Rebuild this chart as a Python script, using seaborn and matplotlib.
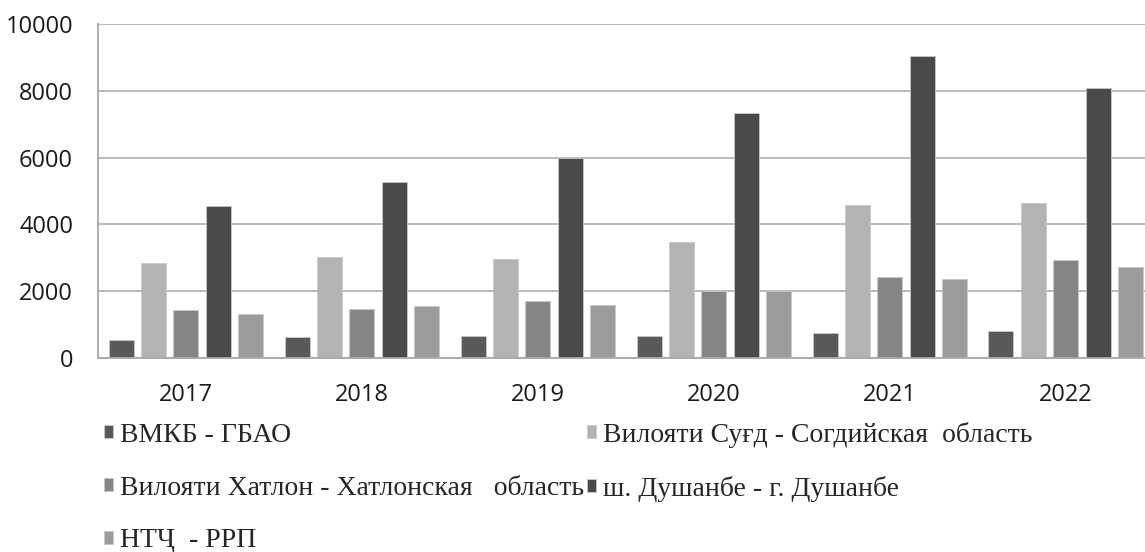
import matplotlib
matplotlib.use('Agg')
import matplotlib.pyplot as plt
from matplotlib.patches import Patch
import seaborn as sns
import pandas as pd

years = ['2017', '2018', '2019', '2020', '2021', '2022']
regions = ['ВМКБ - ГБАО',
           'Вилояти Суғд - Согдийская  область',
           'Вилояти Хатлон - Хатлонская   область',
           'ш. Душанбе - г. Душанбе',
           'НТҶ  - РРП']
vmkb = [550, 630, 670, 670, 750, 820]
sughd = [2857, 3017, 2977, 3477, 4585, 4635]
khatlon = [1439, 1479, 1708, 1998, 2438, 2947]
dushanbe = [4555, 5285, 5984, 7323, 9051, 8092]
rrp = [1329, 1558, 1598, 1998, 2358, 2737]
colors = ['#595959', '#b3b3b3', '#858585', '#4a4a4a', '#9b9b9b']

series = [vmkb, sughd, khatlon, dushanbe, rrp]
rows = []
for name, vals in zip(regions, series):
    for y, v in zip(years, vals):
        rows.append({'year': y, 'region': name, 'value': v})
df = pd.DataFrame(rows)

sns.set_style('white')
plt.rcParams['font.family'] = ['Open Sans', 'DejaVu Sans']

fig = plt.figure(figsize=(11.45, 5.52), dpi=100)
ax = fig.add_axes([0.0856, 0.3514, 0.922, 0.605])
sns.barplot(data=df, x='year', y='value', hue='region', hue_order=regions,
            palette=colors, width=0.92, ax=ax, edgecolor='#c8c8c8',
            linewidth=0.6, legend=False)

# narrower bars with gaps inside each group
bw = 0.142
for c in ax.containers:
    for p in c:
        w = p.get_width()
        p.set_x(p.get_x() + (w - bw) / 2)
        p.set_width(bw)

ax.set_xlim(-0.5, 5.5)
ax.set_ylim(0, 10000)
ax.set_yticks(range(0, 10001, 2000))
ax.set_xlabel('')
ax.set_ylabel('')
ax.yaxis.grid(True, color='#b5b5b5', linewidth=1.3)
ax.set_axisbelow(True)
for s in ['top', 'right']:
    ax.spines[s].set_visible(False)
for s in ['left', 'bottom']:
    ax.spines[s].set_color('#a8a8a8')
    ax.spines[s].set_linewidth(1.3)
ax.tick_params(axis='y', length=0, pad=18, labelsize=17, labelcolor='#1a1a1a')
ax.tick_params(axis='x', length=0, pad=18, labelsize=17, labelcolor='#1a1a1a')

handles = [Patch(facecolor=c, edgecolor='#c8c8c8', linewidth=0.6) for c in colors]
order = [0, 2, 4, 1, 3]
fig.legend([handles[i] for i in order], [regions[i] for i in order],
           loc='upper left', bbox_to_anchor=(0.091, 0.236), ncol=2,
           frameon=False, borderpad=0, borderaxespad=0,
           handlelength=0.33, handleheight=0.33, handletextpad=0.25,
           columnspacing=0.1, labelspacing=1.0,
           prop={'family': ['Liberation Serif', 'DejaVu Serif'], 'size': 20})

fig.savefig('out.png', dpi=100)
